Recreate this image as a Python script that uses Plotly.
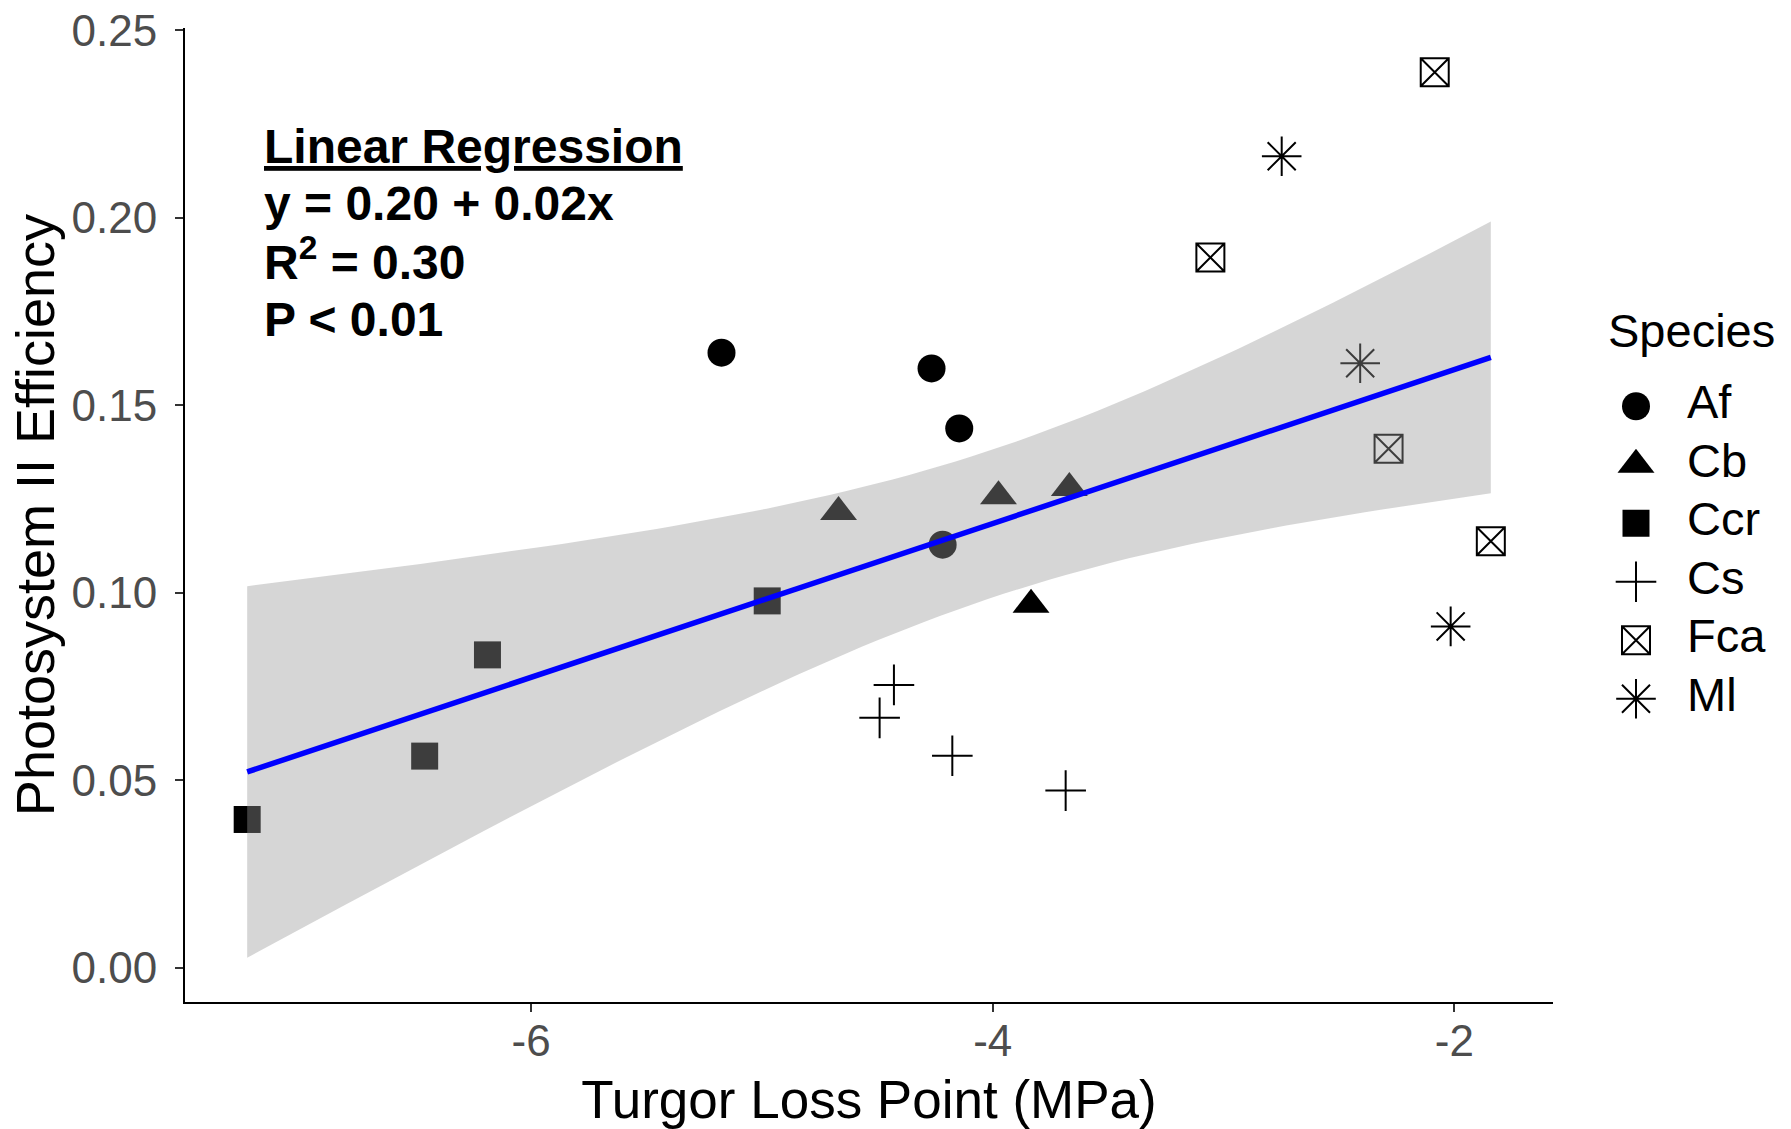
import numpy as np
import plotly.graph_objects as go

# ---------------- data ----------------
species = ["Af", "Cb", "Ccr", "Cs", "Fca", "Ml"]

af_x = [-5.175, -4.265, -4.145, -4.217]
af_y = [0.1640, 0.1598, 0.1438, 0.1128]
cb_x = [-4.668, -3.975, -3.668, -3.834]
cb_y = [0.1215, 0.1257, 0.1279, 0.0968]
ccr_x = [-7.230, -6.461, -6.189, -4.977]
ccr_y = [0.0395, 0.0564, 0.0834, 0.0978]
cs_x = [-4.428, -4.490, -4.175, -3.684]
cs_y = [0.0754, 0.0666, 0.0565, 0.0472]
fca_x = [-2.085, -3.057, -2.285, -1.842]
fca_y = [0.2388, 0.1894, 0.1384, 0.1137]
ml_x = [-2.748, -2.408, -2.016]
ml_y = [0.2164, 0.1612, 0.0910]

x_ticks = [-6, -4, -2]
y_ticks = [0.00, 0.05, 0.10, 0.15, 0.20, 0.25]

annot_lines = ["<u>Linear Regression</u>", "y = 0.20 + 0.02x",
               "R<sup>2</sup> = 0.30", "P &lt; 0.01"]

# ---------------- styles ----------------
symbols = ["circle", "triangle-up", "square", "cross-thin-open",
           "square-x-open", "asterisk-open"]
sizes = [28, 32, 27, 29, 28, 33]
FONT = "Liberation Sans, Arial, sans-serif"

xs_list = [af_x, cb_x, ccr_x, cs_x, fca_x, ml_x]
ys_list = [af_y, cb_y, ccr_y, cs_y, fca_y, ml_y]

# ---------------- linear model + 95% CI (like geom_smooth(method='lm')) ----
xs = np.concatenate([np.array(v, float) for v in xs_list])
ys = np.concatenate([np.array(v, float) for v in ys_list])
n = len(xs)
xbar, ybar = xs.mean(), ys.mean()
sxx = ((xs - xbar) ** 2).sum()
slope = ((xs - xbar) * (ys - ybar)).sum() / sxx
intercept = ybar - slope * xbar
resid = ys - (intercept + slope * xs)
s = np.sqrt((resid ** 2).sum() / (n - 2))
T975 = 2.079614  # t quantile, df = 21
grid = np.linspace(xs.min(), xs.max(), 80)
fit = intercept + slope * grid
se = s * np.sqrt(1.0 / n + (grid - xbar) ** 2 / sxx)
upper = fit + T975 * se
lower = fit - T975 * se

xlo, xhi = xs.min(), xs.max()
xpad = 0.05 * (xhi - xlo)
ylo, yhi = min(ys.min(), lower.min()), max(ys.max(), upper.max())
ypad = 0.05 * (yhi - ylo)

fig = go.Figure()

# points
for sp, sx, sy, sym, sz in zip(species, xs_list, ys_list, symbols, sizes):
    is_open = sym.endswith("-open")
    fig.add_trace(go.Scatter(
        x=sx, y=sy, mode="markers", name=sp, showlegend=False,
        marker=dict(symbol=sym, size=sz, color="black",
                    line=dict(color="black", width=2 if is_open else 0)),
    ))

# CI ribbon (drawn over points, like ggplot)
fig.add_trace(go.Scatter(
    x=np.concatenate([grid, grid[::-1]]),
    y=np.concatenate([upper, lower[::-1]]),
    mode="lines", fill="toself", fillcolor="rgba(153,153,153,0.4)",
    line=dict(width=0), showlegend=False, hoverinfo="skip",
))
# fitted line
fig.add_trace(go.Scatter(
    x=grid, y=fit, mode="lines", line=dict(color="#0000FF", width=5.5),
    showlegend=False,
))

# ---------------- custom legend (own small axis) ----------------
for sp, sym, sz in zip(species, symbols, sizes):
    is_open = sym.endswith("-open")
    fig.add_trace(go.Scatter(
        x=[36], y=[sp], xaxis="x2", yaxis="y2", mode="markers",
        showlegend=False, hoverinfo="skip",
        marker=dict(symbol=sym, size=sz, color="black",
                    line=dict(color="black", width=2 if is_open else 0)),
    ))
fig.add_trace(go.Scatter(
    x=[87] * len(species), y=species, text=species, xaxis="x2", yaxis="y2",
    mode="text", textposition="middle right", showlegend=False,
    hoverinfo="skip", textfont=dict(family=FONT, size=47, color="black"),
))

PLOT_W = 1606.0
main_right = 1368.0 / PLOT_W

fig.update_layout(
    width=1791, height=1129,
    margin=dict(l=185, r=0, t=28, b=127),
    paper_bgcolor="white", plot_bgcolor="white",
    font=dict(family=FONT),
    xaxis=dict(
        domain=[0, main_right], range=[xlo - xpad, xhi + xpad],
        tickvals=x_ticks, ticktext=[str(v) for v in x_ticks],
        showline=True, linecolor="black", linewidth=2,
        ticks="outside", ticklen=8, tickwidth=2, tickcolor="#333333",
        tickfont=dict(family=FONT, size=44, color="#4D4D4D"),
        ticklabelstandoff=-9,
        showgrid=False, zeroline=False,
        title=dict(text="Turgor Loss Point (MPa)", standoff=22,
                   font=dict(family=FONT, size=53, color="black")),
    ),
    yaxis=dict(
        range=[ylo - ypad, yhi + ypad],
        tickvals=y_ticks, tickformat=".2f",
        showline=True, linecolor="black", linewidth=2,
        ticks="outside", ticklen=8, tickwidth=2, tickcolor="#333333",
        tickfont=dict(family=FONT, size=44, color="#4D4D4D"),
        ticklabelstandoff=9,
        showgrid=False, zeroline=False,
        title=dict(text="Photosystem II Efficiency", standoff=0,
                   font=dict(family=FONT, size=54, color="black")),
    ),
    xaxis2=dict(domain=[(1600 - 185) / PLOT_W, 1.0], range=[0, 191],
                anchor="y2", visible=False, fixedrange=True),
    yaxis2=dict(domain=[(1002 - 728.0) / 974.0, (1002 - 377.0) / 974.0],
                type="category", categoryorder="array", categoryarray=species,
                range=[len(species) - 0.5, -0.5],
                anchor="x2", visible=False, fixedrange=True),
)

# legend title
fig.add_annotation(text="Species", xref="paper", yref="paper",
                   x=(1606 - 185) / PLOT_W, y=(1002 - 330) / 974.0,
                   xanchor="left", yanchor="middle", showarrow=False,
                   font=dict(family=FONT, size=47, color="black"))

# regression annotation
line_centers = [146.3, 203.0, 258.5, 319.0]
for txt, cy in zip(annot_lines, line_centers):
    fig.add_annotation(text="<b>" + txt + "</b>", xref="paper", yref="paper",
                       x=(262 - 185) / PLOT_W, y=(1002 - cy) / 974.0,
                       xanchor="left", yanchor="middle", showarrow=False,
                       font=dict(family=FONT, size=48, color="black"))

fig.write_html("out.html", config={"displayModeBar": False},
               post_script="document.body.style.margin='0';")
